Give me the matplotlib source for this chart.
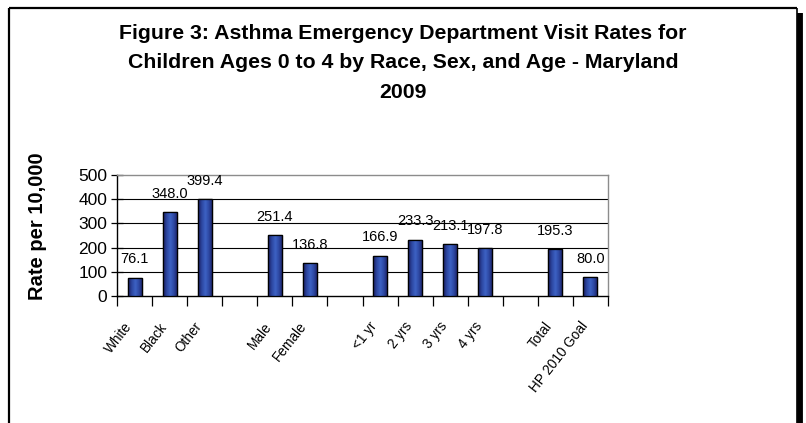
import matplotlib
matplotlib.use('Agg')
import matplotlib.pyplot as plt
import numpy as np
from matplotlib.colors import LinearSegmentedColormap
from matplotlib.lines import Line2D

# ---- data ----
categories = ['White', 'Black', 'Other', '', 'Male', 'Female', '',
              '<1 yr', '2 yrs', '3 yrs', '4 yrs', '', 'Total', 'HP 2010 Goal']
values = [76.1, 348.0, 399.4, None, 251.4, 136.8, None,
          166.9, 233.3, 213.1, 197.8, None, 195.3, 80.0]
value_labels = ['76.1', '348.0', '399.4', '', '251.4', '136.8', '',
                '166.9', '233.3', '213.1', '197.8', '', '195.3', '80.0']
y_ticks = [0, 100, 200, 300, 400, 500]
title = ("Figure 3: Asthma Emergency Department Visit Rates for\n"
         "Children Ages 0 to 4 by Race, Sex, and Age - Maryland\n2009")
y_label = "Rate per 10,000"

SANS = ['Liberation Sans', 'DejaVu Sans']
plt.rcParams['font.family'] = SANS

W, H = 806, 423
fig = plt.figure(figsize=(W / 100, H / 100), dpi=100)
fig.patch.set_facecolor('white')

# axes placement (pixels -> figure fraction)
L, R, T, B = 117, 608, 175, 296
ax = fig.add_axes([L / W, 1 - B / H, (R - L) / W, (B - T) / H])

xs = [i for i, v in enumerate(values) if v is not None]
hs = [v for v in values if v is not None]
labs = [value_labels[i] for i in xs]

bars = ax.bar(xs, hs, width=0.4, color='#2d4aa3', edgecolor='black',
              linewidth=0.9, zorder=3)

# horizontal gradient fill inside each bar
cmap = LinearSegmentedColormap.from_list(
    'bar', ['#1a1c5c', '#2c46a0', '#3d62c4', '#2c46a0', '#1a1c5c'])
grad = np.linspace(0, 1, 64).reshape(1, -1)
for p in bars:
    x0, y0 = p.get_x(), p.get_y()
    w, h = p.get_width(), p.get_height()
    im = ax.imshow(grad, cmap=cmap, extent=(x0, x0 + w, y0, y0 + h),
                   aspect='auto', zorder=3.1, interpolation='bilinear')
    im.set_clip_path(p)
    ax.add_patch(plt.Rectangle((x0, y0), w, h, fill=False,
                               edgecolor='black', linewidth=0.9, zorder=3.2))

ax.bar_label(bars, labels=labs, padding=8, fontsize=10.5, color='black')

ax.set_xlim(-0.5, len(categories) - 0.5)
ax.set_ylim(y_ticks[0], y_ticks[-1])

# grid lines
for y in y_ticks[1:-1]:
    ax.axhline(y, color='black', linewidth=0.8, zorder=1)

# spines
for s in ['top', 'right']:
    ax.spines[s].set_color('#8c8c8c')
    ax.spines[s].set_linewidth(1.0)
for s in ['left', 'bottom']:
    ax.spines[s].set_color('black')
    ax.spines[s].set_linewidth(1.0)

# y axis
ax.set_yticks(y_ticks)
ax.set_yticklabels([str(t) for t in y_ticks], fontsize=12.5)
ax.tick_params(axis='y', direction='inout', length=8, width=0.9, pad=3)
ax.set_ylabel(y_label, fontsize=14.5, fontweight='bold')
ax.yaxis.set_label_coords(47 / W, 1 - 226 / H, transform=fig.transFigure)

# x axis: boundary ticks (minor), labels (major, no tick marks)
ax.set_xticks(range(len(categories)))
ax.set_xticklabels(categories, rotation=52, ha='right', va='top',
                   fontsize=9.8, rotation_mode='default')
ax.set_xticks(np.arange(-0.5, len(categories)), minor=True)
ax.tick_params(axis='x', which='major', length=0, pad=17)
ax.tick_params(axis='x', which='minor', direction='out', length=7, width=0.9)

# title
fig.text(403 / W, 1 - 63 / H, title, ha='center', va='center',
         fontsize=15.3, fontweight='bold', linespacing=1.68)

# figure frame with shadow
def fline(x0, y0, x1, y1, lw):
    fig.add_artist(Line2D([x0 / W, x1 / W], [1 - y0 / H, 1 - y1 / H],
                          color='black', linewidth=lw,
                          transform=fig.transFigure, solid_capstyle='butt'))

fline(9, 8.5, 797, 8.5, 1.6)     # top
fline(9, 8, 9, H, 1.6)           # left
fline(796.5, 8, 796.5, H, 1.2)   # right
fline(799.5, 13, 799.5, H, 4.2)  # right shadow

fig.savefig('out.png', dpi=100, facecolor='white')
